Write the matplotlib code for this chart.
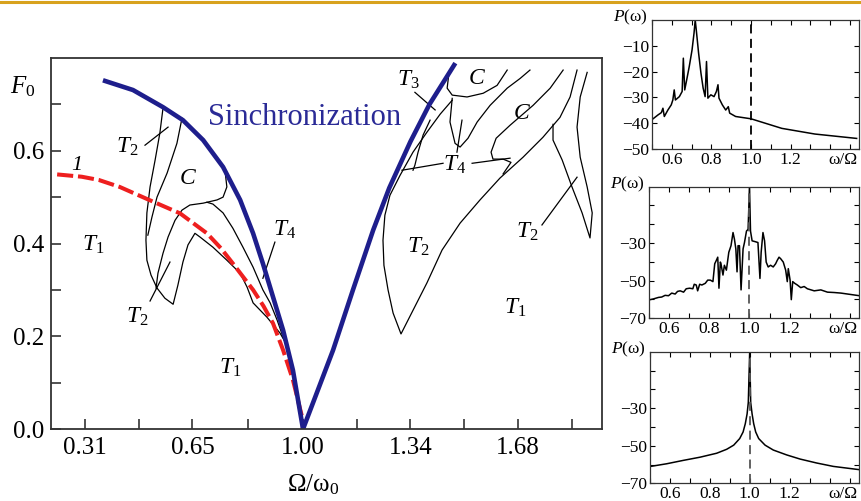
import matplotlib.pyplot as plt
from matplotlib.lines import Line2D
from matplotlib.ticker import FixedLocator, NullFormatter

plt.rcParams['font.family'] = ['Liberation Serif', 'DejaVu Serif']
plt.rcParams['mathtext.fontset'] = 'custom'
plt.rcParams['mathtext.rm'] = 'Liberation Serif'
plt.rcParams['mathtext.it'] = 'Liberation Serif:italic'

# ---- main diagram: F0 vs Omega/omega0 ----
# curve 1 (red dashed)
red_x = [0.222, 0.30, 0.354, 0.42, 0.513, 0.611, 0.696, 0.74, 0.778, 0.842, 0.875,
         0.905, 0.937, 0.968, 0.997, 1.0]
red_y = [0.549, 0.544, 0.537, 0.522, 0.494, 0.465, 0.422, 0.39, 0.357, 0.300, 0.265,
         0.228, 0.170, 0.106, 0.026, 0.0]

# synchronization boundary (blue)
sync_left_x = [0.367, 0.462, 0.557, 0.620, 0.684, 0.747, 0.801, 0.842, 0.873, 0.905,
               0.937, 0.968, 1.0]
sync_left_y = [0.752, 0.731, 0.694, 0.666, 0.623, 0.565, 0.494, 0.422, 0.357, 0.285,
               0.213, 0.127, 0.0]
sync_right_x = [1.0, 1.047, 1.095, 1.158, 1.222, 1.273, 1.34, 1.40, 1.482]
sync_right_y = [0.0, 0.084, 0.17, 0.30, 0.429, 0.52, 0.62, 0.70, 0.789]

# thin region borders, left side
l1_x = [0.557, 0.547, 0.532, 0.516, 0.506, 0.503, 0.506, 0.519, 0.538, 0.563, 0.589,
        0.604, 0.620, 0.636, 0.658, 0.674, 0.715, 0.759, 0.801, 0.823, 0.842, 0.886, 0.927, 0.949]
l1_y = [0.692, 0.638, 0.580, 0.522, 0.466, 0.407, 0.364, 0.332, 0.304, 0.282, 0.269,
        0.310, 0.360, 0.397, 0.422, 0.414, 0.392, 0.364, 0.336, 0.306, 0.272, 0.241, 0.207, 0.181]
l2_x = [0.617, 0.601, 0.570, 0.538, 0.522, 0.509]
l2_y = [0.670, 0.616, 0.552, 0.500, 0.457, 0.418]
l3_x = [0.753, 0.759, 0.747, 0.728, 0.684, 0.642, 0.617, 0.595, 0.573, 0.557, 0.541, 0.535]
l3_y = [0.558, 0.522, 0.500, 0.494, 0.487, 0.483, 0.472, 0.450, 0.414, 0.379, 0.336, 0.304]
l4_x = [0.696, 0.715, 0.747, 0.778, 0.810, 0.842, 0.873, 0.896, 0.918, 0.937, 0.949]
l4_y = [0.489, 0.485, 0.466, 0.433, 0.392, 0.349, 0.300, 0.272, 0.235, 0.198, 0.181]

# thin region borders, right side
r1_x = [1.472, 1.434, 1.392, 1.348, 1.307, 1.275, 1.259, 1.253, 1.256, 1.269, 1.285, 1.310,
        1.348, 1.392, 1.440, 1.497, 1.560, 1.623, 1.696, 1.759, 1.813, 1.845, 1.867]
r1_y = [0.709, 0.679, 0.640, 0.597, 0.547, 0.504, 0.461, 0.407, 0.353, 0.300, 0.250, 0.205,
        0.256, 0.315, 0.386, 0.444, 0.494, 0.541, 0.586, 0.629, 0.672, 0.716, 0.774]
r2_x = [1.462, 1.456, 1.472, 1.519, 1.570, 1.614, 1.646]
r2_y = [0.769, 0.735, 0.720, 0.716, 0.724, 0.741, 0.774]
r3_x = [1.472, 1.465, 1.481, 1.497, 1.522, 1.551, 1.592, 1.646, 1.687, 1.718]
r3_y = [0.713, 0.662, 0.616, 0.608, 0.627, 0.662, 0.698, 0.735, 0.756, 0.774]
r4_x = [1.823, 1.782, 1.728, 1.655, 1.611, 1.595, 1.601, 1.633, 1.658, 1.633]
r4_y = [0.774, 0.735, 0.698, 0.655, 0.627, 0.597, 0.582, 0.582, 0.575, 0.550]
r5_x = [1.791, 1.791, 1.820, 1.851, 1.883, 1.908, 1.915, 1.899, 1.877, 1.867, 1.877, 1.899]
r5_y = [0.657, 0.623, 0.580, 0.522, 0.466, 0.412, 0.466, 0.522, 0.586, 0.651, 0.716, 0.769]
r6_x = [1.402, 1.380, 1.364, 1.354, 1.348]
r6_y = [0.666, 0.634, 0.597, 0.569, 0.558]

# label pointers: (x0, x1), (y0, y1)
pointers = [
    ((0.50, 0.573), (0.612, 0.651)),
    ((0.516, 0.579), (0.276, 0.360)),
    ((0.911, 0.873), (0.403, 0.325)),
    ((1.354, 1.418), (0.726, 0.688)),
    ((1.443, 1.313), (0.573, 0.558)),
    ((1.535, 1.655), (0.573, 0.584)),
    ((1.503, 1.487), (0.666, 0.597)),
    ((1.756, 1.867), (0.440, 0.543)),
]

region_labels = [
    (0.443, 0.608, '$T_2$'), (0.636, 0.541, '$C$'), (0.335, 0.397, '$T_1$'),
    (0.943, 0.429, '$T_4$'), (0.475, 0.241, '$T_2$'), (0.769, 0.131, '$T_1$'),
    (1.332, 0.752, '$T_3$'), (1.551, 0.756, '$C$'), (1.693, 0.681, '$C$'),
    (1.481, 0.569, '$T_4$'), (1.364, 0.392, '$T_2$'), (1.709, 0.425, '$T_2$'),
    (1.671, 0.261, '$T_1$'),
]

main_xticks = [0.31, 0.65, 1.00, 1.34, 1.68]
main_xminor = [0.48, 0.825, 1.17, 1.51, 1.85]
main_yticks = [0.0, 0.2, 0.4, 0.6]
main_yminor = [0.1, 0.3, 0.5, 0.7]

# ---- power spectra P(omega) ----
s1_x = [0.505, 0.530, 0.547, 0.555, 0.562, 0.580, 0.597, 0.605, 0.612, 0.618, 0.638, 0.652,
        0.658, 0.665, 0.675, 0.688, 0.702, 0.712, 0.718, 0.725, 0.735, 0.747, 0.758, 0.768,
        0.775, 0.782, 0.797, 0.813, 0.825, 0.833, 0.838, 0.855, 0.872, 0.885, 0.892, 0.922,
        1.0, 1.155, 1.322, 1.533]
s1_y = [-38.3, -36.8, -35.9, -34.2, -37.4, -34.9, -32.9, -31.0, -27.1, -31.0, -29.7, -27.7,
        -14.8, -27.1, -23.2, -18.0, -11.6, -5.1, 0.0, -5.1, -12.8, -20.6, -26.4, -29.7,
        -16.1, -30.3, -29.0, -29.7, -27.7, -25.1, -30.3, -32.9, -34.9, -33.6, -36.1, -37.4,
        -38.3, -42.0, -44.2, -45.9]

s2_x = [0.505, 0.522, 0.547, 0.563, 0.580, 0.597, 0.613, 0.630, 0.642, 0.655, 0.672, 0.685,
        0.702, 0.718, 0.725, 0.735, 0.742, 0.752, 0.763, 0.780, 0.792, 0.805, 0.818, 0.827,
        0.835, 0.842, 0.848, 0.855, 0.858, 0.868, 0.875, 0.885, 0.897, 0.908, 0.918, 0.925,
        0.932, 0.938, 0.943, 0.950, 0.958, 0.968, 0.975, 0.985, 0.993, 1.000, 1.005, 1.013,
        1.030, 1.042, 1.052, 1.058, 1.067, 1.075, 1.083, 1.093, 1.105, 1.118, 1.130, 1.138,
        1.147, 1.155, 1.168, 1.180, 1.188, 1.193, 1.202, 1.208, 1.215, 1.225, 1.238, 1.255,
        1.272, 1.288, 1.322, 1.355, 1.388, 1.422, 1.455, 1.488, 1.547]
s2_y = [-60.1, -59.7, -58.9, -58.7, -57.8, -58.0, -56.6, -57.1, -55.7, -55.4, -56.1, -54.3,
        -54.0, -54.3, -51.9, -52.3, -55.4, -51.9, -52.3, -51.4, -49.7, -49.7, -50.5, -41.0,
        -39.2, -37.5, -54.0, -40.1, -41.0, -47.0, -41.8, -44.4, -34.9, -31.4, -24.4, -27.9,
        -33.1, -45.3, -31.4, -31.4, -54.9, -33.1, -29.7, -23.6, -22.7, 0.0, -23.6, -28.8,
        -29.3, -29.7, -48.8, -34.9, -24.4, -28.8, -40.1, -42.7, -41.8, -42.7, -41.0, -39.2,
        -37.5, -38.3, -40.1, -44.4, -50.5, -43.6, -49.7, -60.1, -50.5, -51.4, -52.3, -53.7,
        -53.1, -54.3, -55.4, -54.9, -56.1, -56.3, -56.6, -57.1, -58.0]

s3_x = [0.505, 0.585, 0.668, 0.752, 0.835, 0.885, 0.92, 0.95, 0.967, 0.978, 0.987, 0.993,
        1.0, 1.005, 1.012, 1.02, 1.03, 1.045, 1.077, 1.118, 1.185, 1.252, 1.335, 1.418, 1.545]
s3_y = [-61.0, -59.6, -57.8, -56.1, -54.0, -51.9, -49.7, -46.2, -42.7, -38.3, -33.1, -27.0,
        0.0, -27.0, -33.1, -38.3, -42.7, -46.2, -49.7, -52.3, -54.9, -57.1, -59.2, -61.0, -62.7]

drive_freq = 1.0
spec_xticks = [0.6, 0.8, 1.0, 1.2]
spec_xminor = [0.5, 0.7, 0.9, 1.1, 1.3, 1.4, 1.5]

fig = plt.figure(figsize=(8.61, 5.01), dpi=100)
fig.add_artist(Line2D([0, 1], [0.997, 0.997], transform=fig.transFigure,
                      color='#d8a21e', lw=2.2))

ax = fig.add_axes([0.0592, 0.1437, 0.640, 0.7405])
thin = dict(color='black', lw=0.9)
for xs, ys in [(l1_x, l1_y), (l2_x, l2_y), (l3_x, l3_y), (l4_x, l4_y),
               (r1_x, r1_y), (r2_x, r2_y), (r3_x, r3_y), (r4_x, r4_y),
               (r5_x, r5_y), (r6_x, r6_y)]:
    ax.plot(xs, ys, **thin)
for xs, ys in pointers:
    ax.plot(xs, ys, **thin)
ax.plot(red_x, red_y, color='#ee1f1f', lw=2.9, dashes=(4, 1.2))
ax.plot(sync_left_x, sync_left_y, color='#1e1e8c', lw=3.3, solid_capstyle='butt')
ax.plot(sync_right_x, sync_right_y, color='#1e1e8c', lw=3.3, solid_capstyle='butt')

for x, y, s in region_labels:
    ax.text(x, y, s, fontsize=17, ha='center', va='center')
ax.text(0.285, 0.569, '1', fontsize=16, fontstyle='italic', ha='center', va='center')
ax.text(1.006, 0.672, 'Sinchronization', fontsize=22, color='#2a2a96',
        ha='center', va='center')

ax.set_xlim(0.2025, 1.946)
ax.set_ylim(0, 0.8)
ax.set_xticks(main_xticks)
ax.set_xticklabels([f'{v:.2f}' for v in main_xticks])
ax.xaxis.set_minor_locator(FixedLocator(main_xminor))
ax.set_yticks(main_yticks)
ax.set_yticklabels([f'{v:.1f}' for v in main_yticks])
ax.yaxis.set_minor_locator(FixedLocator(main_yminor))
ax.tick_params(which='both', direction='in', length=7, width=1.2, color='#333333',
               labelsize=18)
ax.tick_params(axis='x', pad=6)
ax.tick_params(axis='y', pad=5)
for sp in ax.spines.values():
    sp.set_linewidth(1.3)
    sp.set_color('#333333')
fig.text(0.026, 0.826, '$F_0$', fontsize=18, ha='center', va='center')
fig.text(0.3635, 0.032, r'$\mathrm{\Omega/\omega_0}$', fontsize=18, ha='center', va='center')


def spectrum(rect, xs, ys, ymin, ymax, yticks, yminor, dash_col):
    a = fig.add_axes(rect)
    a.plot(xs, ys, color='black', lw=1.1)
    a.axvline(drive_freq, color=dash_col, lw=1.3, dashes=(5, 3))
    a.set_xlim(0.5, 1.545)
    a.set_ylim(ymin, ymax)
    a.set_xticks(spec_xticks)
    a.set_xticklabels([f'{v:.1f}' for v in spec_xticks])
    a.xaxis.set_minor_locator(FixedLocator(spec_xminor))
    a.set_yticks(yticks)
    a.set_yticklabels([f'\u2212{-v:d}' for v in yticks])
    a.yaxis.set_minor_locator(FixedLocator(yminor))
    a.yaxis.set_minor_formatter(NullFormatter())
    a.tick_params(which='both', direction='in', top=True, right=True, length=3.5,
                  width=0.8, labelsize=12.5, pad=2)
    for sp in a.spines.values():
        sp.set_linewidth(0.9)
        sp.set_color('#333333')
    a.text(-0.02, 1.02, '$P$(ω)', transform=a.transAxes, fontsize=12.5,
           ha='right', va='center')
    a.text(0.923, -0.02, 'ω/Ω', transform=a.transAxes, fontsize=12.5,
           ha='center', va='top')
    return a


spectrum([0.7573, 0.7026, 0.2404, 0.2575], s1_x, s1_y, -50, 0,
         [-10, -20, -30, -40, -50], [], 'black')
spectrum([0.7538, 0.3647, 0.2439, 0.2627], s2_x, s2_y, -70, 0,
         [-30, -50, -70], [-10, -20, -40, -60], '#555555')
spectrum([0.7546, 0.0353, 0.2427, 0.2627], s3_x, s3_y, -70, 0,
         [-30, -50, -70], [-10, -20, -40, -60], '#555555')

fig.savefig('out.png', dpi=100)
